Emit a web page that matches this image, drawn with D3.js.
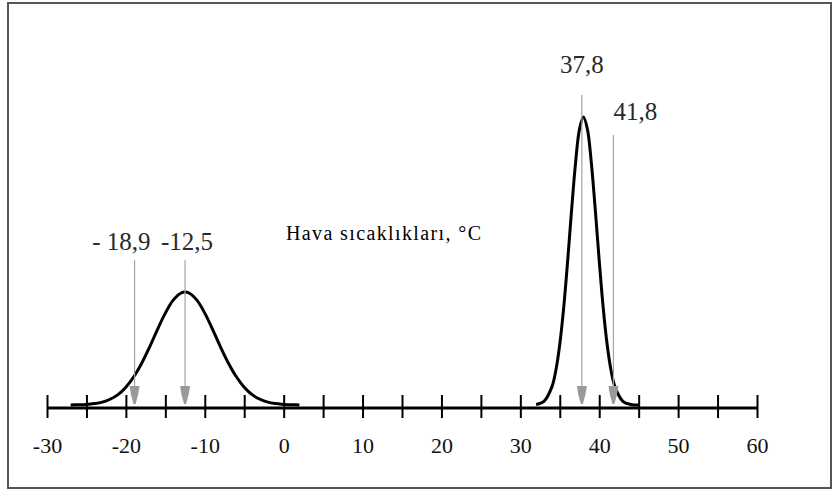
<!DOCTYPE html>
<html>
<head>
<meta charset="utf-8">
<script src="https://cdn.jsdelivr.net/npm/d3@7"></script>
<style>
  body { margin: 0; background: #fff; }
</style>
</head>
<body>
<div id="canvas"></div>
<script>
// winter curve (left)
const winterX = [-27, -26, -25, -24, -23, -22, -21, -20, -19, -18, -17, -16, -15, -14, -13, -12.5,
                 -12, -11, -10, -9, -8, -7, -6, -5, -4, -3, -2, -1, 0, 1, 2];
const winterY = [0.04, 0.1, 0.2, 0.5, 1.0, 2.0, 3.6, 6.2, 9.8, 14.5, 20.1, 26.2, 31.9, 36.4, 38.9, 39.2,
                 38.9, 36.4, 31.9, 26.2, 20.1, 14.5, 9.8, 6.2, 3.6, 2.0, 1.0, 0.5, 0.2, 0.1, 0];
// summer curve (right)
const summerX = [32, 33, 34, 34.5, 35, 35.5, 36, 36.5, 37, 37.5, 38, 38.5, 39, 39.5, 40, 40.5, 41, 41.5, 42, 43, 44, 45];
const summerY = [0.2, 1.3, 6.3, 12.0, 21.1, 33.9, 50.1, 67.8, 84.1, 95.8, 100, 95.8, 84.1, 67.8, 50.1, 33.9, 21.1, 12.0, 6.3, 1.3, 0.2, 0];

const markValues = [-18.9, -12.5, 37.8, 41.8];
const markLabels = ["- 18,9", "-12,5", "37,8", "41,8"];
const markTops = [50.3, 50.3, 107.6, 93.8];

const tickValues = [-30, -25, -20, -15, -10, -5, 0, 5, 10, 15, 20, 25, 30, 35, 40, 45, 50, 55, 60];
const tickLabels = [-30, -20, -10, 0, 10, 20, 30, 40, 50, 60];

const title = "Hava sıcaklıkları, °C";

const width = 838;
const height = 491;
const serif = "'Liberation Serif', Tinos, 'Times New Roman', Times, serif";

const svg = d3.select("#canvas").append("svg")
  .attr("width", width)
  .attr("height", height);

// outer frame
svg.append("rect")
  .attr("x", 8).attr("y", 3)
  .attr("width", 823).attr("height", 485)
  .attr("fill", "none")
  .attr("stroke", "#555")
  .attr("stroke-width", 2);

const x = d3.scaleLinear().domain([-30, 60]).range([47, 757]);
const y = d3.scaleLinear().domain([0, 100]).range([405, 117]);
const axisY = 408;

// axis
const axis = svg.append("g")
  .attr("transform", `translate(0,${axisY})`)
  .call(d3.axisBottom(x)
    .tickValues(tickValues)
    .tickSize(0)
    .tickFormat(d => tickLabels.includes(d) ? String(d) : ""));
axis.select(".domain").attr("stroke", "#000").attr("stroke-width", 3).attr("d", `M${x(-30)},0H${x(60)}`);
axis.selectAll(".tick line")
  .attr("y1", -13).attr("y2", 10)
  .attr("stroke", "#000").attr("stroke-width", 2);
axis.selectAll(".tick text")
  .attr("y", 45).attr("dy", 0)
  .attr("font-size", 22)
  .style("font-family", serif)
  .attr("fill", "#111");

// curves
const line = d3.line()
  .x(d => x(d[0]))
  .y(d => y(d[1]))
  .curve(d3.curveCatmullRom);

[[winterX, winterY], [summerX, summerY]].forEach(([xs, ys]) => {
  svg.append("path")
    .datum(xs.map((v, i) => [v, ys[i]]))
    .attr("d", line)
    .attr("fill", "none")
    .attr("stroke", "#000")
    .attr("stroke-width", 3);
});

// arrows
const marks = svg.append("g");
markValues.forEach((v, i) => {
  const px = x(v);
  marks.append("line")
    .attr("x1", px).attr("x2", px)
    .attr("y1", y(markTops[i])).attr("y2", 390)
    .attr("stroke", "#a3a3a3").attr("stroke-width", 1.2);
  marks.append("path")
    .attr("d", `M${px - 5},386 L${px + 5},386 L${px + 3.5},395 L${px + 1},404 L${px - 1},404 L${px - 3.5},395 Z`)
    .attr("fill", "#9a9a9a");
});

// labels
const anchors = ["end", "middle", "middle", "start"];
const dxs = [16, 2, 0, 0];
const dys = [-10, -10, -22, -15];
markValues.forEach((v, i) => {
  svg.append("text")
    .attr("x", x(v) + dxs[i])
    .attr("y", y(markTops[i]) + dys[i])
    .attr("text-anchor", anchors[i])
    .attr("font-size", 25)
    .style("font-family", serif)
    .attr("fill", "#2a2a2a")
    .text(markLabels[i]);
});

svg.append("text")
  .attr("x", 286).attr("y", 240)
  .attr("font-size", 20)
  .attr("textLength", 195)
  .attr("lengthAdjust", "spacing")
  .style("font-family", serif)
  .attr("fill", "#000")
  .text(title);
</script>
</body>
</html>
